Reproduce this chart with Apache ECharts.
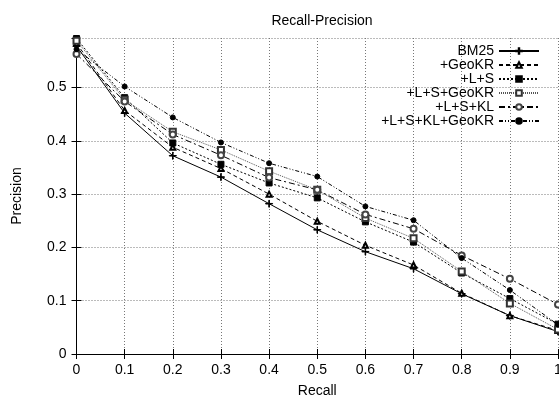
<!DOCTYPE html>
<html>
<head>
<meta charset="utf-8">
<script src="https://cdn.jsdelivr.net/npm/echarts@6/dist/echarts.min.js"></script>
<style>html,body{margin:0;padding:0;background:#fff}#c{width:559px;height:398px}</style>
</head>
<body>
<div id="c"></div>
<script>
const recall = [0, 0.1, 0.2, 0.3, 0.4, 0.5, 0.6, 0.7, 0.8, 0.9, 1.0];
const seriesNames = ['BM25', '+GeoKR', '+L+S', '+L+S+GeoKR', '+L+S+KL', '+L+S+KL+GeoKR'];
const bm25    = [0.578, 0.452, 0.372, 0.332, 0.282, 0.233, 0.192, 0.160, 0.113, 0.072, 0.042];
const geokr   = [0.583, 0.457, 0.388, 0.348, 0.300, 0.249, 0.204, 0.167, 0.114, 0.072, 0.044];
const ls      = [0.592, 0.481, 0.396, 0.356, 0.321, 0.293, 0.248, 0.210, 0.152, 0.104, 0.056];
const lsGeo   = [0.588, 0.477, 0.417, 0.383, 0.343, 0.308, 0.255, 0.217, 0.155, 0.095, 0.046];
const lsKL    = [0.563, 0.474, 0.412, 0.373, 0.331, 0.308, 0.262, 0.235, 0.185, 0.141, 0.093];
const lsKLGeo = [0.572, 0.502, 0.444, 0.397, 0.358, 0.333, 0.277, 0.251, 0.180, 0.120, 0.055];
const values = [bm25, geokr, ls, lsGeo, lsKL, lsKLGeo];

const FONT = '"Liberation Sans", Arial, sans-serif';
const styles = [
  {symbol: 'path://M0,4.6H10V5.4H0Z M4.6,0H5.4V10H4.6Z', size: 7, type: 'solid', color: '#000', fill: '#000'},
  {symbol: 'emptyTriangle', size: 5, type: [4, 3], color: '#000', fill: '#000'},
  {symbol: 'rect', size: 6, type: [2, 2], color: '#000', fill: '#000'},
  {symbol: 'emptyRect', size: 6, type: [1, 1], color: '#555', fill: '#333'},
  {symbol: 'emptyCircle', size: 6, type: [6, 3, 2, 3], color: '#000', fill: '#444'},
  {symbol: 'circle', size: 5, type: [4, 2, 1, 2, 1, 2], color: '#000', fill: '#000'}
];

const series = seriesNames.map((name, i) => ({
  name: name,
  type: 'line',
  data: recall.map((r, j) => [r, values[i][j]]),
  symbol: styles[i].symbol,
  symbolSize: styles[i].size,
  showAllSymbol: true,
  lineStyle: {color: styles[i].color, width: 1, type: styles[i].type},
  itemStyle: {color: styles[i].fill, borderColor: styles[i].fill, borderWidth: 1},
  emphasis: {disabled: true},
  animation: false,
  xAxisIndex: 0,
  yAxisIndex: 0
}));

const chart = echarts.init(document.getElementById('c'), null, {renderer: 'canvas'});
chart.setOption({
  backgroundColor: '#fff',
  animation: false,
  title: {
    text: 'Recall-Precision',
    left: 317, top: 9, textAlign: 'center',
    textStyle: {fontFamily: FONT, fontSize: 14, fontWeight: 'normal', color: '#000'}
  },
  legend: {
    data: seriesNames,
    orient: 'vertical',
    right: 19, top: 44,
    align: 'right',
    itemWidth: 40, itemHeight: 7, itemGap: 0,
    padding: 0,
    textStyle: {fontFamily: FONT, fontSize: 14, color: '#000', lineHeight: 14}
  },
  grid: {left: 76.5, right: 1, top: 38, bottom: 44, containLabel: false, outerBoundsMode: 'none'},
  xAxis: [{
    type: 'value', min: 0, max: 1, interval: 0.1,
    name: 'Recall', nameLocation: 'middle', nameGap: 30,
    nameTextStyle: {fontFamily: FONT, fontSize: 14, color: '#000'},
    axisLine: {show: true, lineStyle: {color: '#000', width: 1}},
    axisTick: {show: true, inside: true, length: 5, lineStyle: {color: '#000'}},
    axisLabel: {fontFamily: FONT, fontSize: 14, color: '#000', margin: 9,
      formatter: v => String(+v.toFixed(1))},
    splitLine: {show: true, lineStyle: {color: '#777', type: [1, 2], width: 1}}
  }, {
    type: 'value', min: 0, max: 1, interval: 0.1, position: 'top',
    axisLine: {show: true, lineStyle: {color: '#000', width: 1}},
    axisTick: {show: true, inside: true, length: 5, lineStyle: {color: '#000'}},
    axisLabel: {show: false}, splitLine: {show: false}
  }],
  yAxis: [{
    type: 'value', min: 0, max: 0.593, interval: 0.1,
    name: 'Precision', nameLocation: 'middle', nameGap: 52,
    nameTextStyle: {fontFamily: FONT, fontSize: 14, color: '#000'},
    axisLine: {show: true, lineStyle: {color: '#000', width: 1}},
    axisTick: {show: true, inside: true, length: 5, lineStyle: {color: '#000'}},
    axisLabel: {fontFamily: FONT, fontSize: 14, color: '#000', margin: 10, showMaxLabel: false,
      formatter: v => String(+v.toFixed(1))},
    splitLine: {show: true, lineStyle: {color: '#777', type: [1, 2], width: 1}}
  }, {
    type: 'value', min: 0, max: 0.593, interval: 0.1, position: 'right',
    axisLine: {show: true, lineStyle: {color: '#000', width: 1}},
    axisTick: {show: true, inside: true, length: 5, lineStyle: {color: '#000'}},
    axisLabel: {show: false}, splitLine: {show: false}
  }],
  series: series
});
</script>
</body>
</html>
